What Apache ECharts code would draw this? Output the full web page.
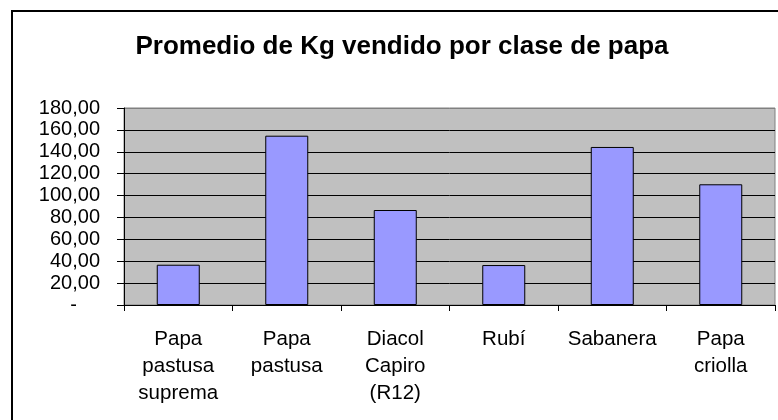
<!DOCTYPE html>
<html>
<head>
<meta charset="utf-8">
<script src="https://cdn.jsdelivr.net/npm/echarts@6/dist/echarts.min.js"></script>
<style>
html,body{margin:0;padding:0;background:#fff;}
#chart{width:778px;height:420px;}
</style>
</head>
<body>
<div id="chart"></div>
<script>
var titleText = 'Promedio de Kg vendido por clase de papa';
var categories = ['Papa\npastusa\nsuprema', 'Papa\npastusa', 'Diacol\nCapiro\n(R12)', 'Rubí', 'Sabanera', 'Papa\ncriolla'];
var values = [36.8, 154.7, 86.8, 36.5, 144.4, 110.3];
var yMin = 0, yMax = 180, yStep = 20;

var chart = echarts.init(document.getElementById('chart'), null, {renderer: 'canvas'});
var font = 'Arial, "Liberation Sans", sans-serif';
chart.setOption({
  animation: false,
  backgroundColor: '#ffffff',
  title: {
    text: titleText,
    left: 397,
    top: 29,
    textAlign: 'center',
    textStyle: {fontFamily: font, fontSize: 26, fontWeight: 'bold', color: '#000'}
  },
  graphic: [{
    type: 'rect',
    shape: {x: 12, y: 11, width: 800, height: 450},
    style: {fill: 'none', stroke: '#000', lineWidth: 2},
    silent: true,
    z: 100
  }],
  grid: {
    left: 124, top: 108, right: 3, bottom: 115,
    show: true,
    backgroundColor: '#C0C0C0',
    borderColor: '#808080',
    borderWidth: 1,
    containLabel: false,
    outerBoundsMode: 'none'
  },
  xAxis: {
    type: 'category',
    data: categories,
    boundaryGap: true,
    axisLine: {show: true, lineStyle: {color: '#000', width: 1}},
    axisTick: {show: true, length: 6, interval: 0, alignWithLabel: false, lineStyle: {color: '#000'}},
    axisLabel: {
      interval: 0, margin: 21, color: '#000',
      fontFamily: font, fontSize: 20.5, lineHeight: 27
    },
    splitLine: {show: false}
  },
  yAxis: {
    type: 'value',
    min: yMin, max: yMax, interval: yStep,
    axisLine: {show: true, lineStyle: {color: '#000', width: 1}},
    axisTick: {show: true, length: 7, lineStyle: {color: '#000'}},
    axisLabel: {
      margin: 24, color: '#000', fontFamily: font, fontSize: 20,
      formatter: function (v) {
        return v === 0 ? '{z|-}' : v.toFixed(2).replace('.', ',');
      },
      rich: {z: {fontFamily: font, fontSize: 20, color: '#000', padding: [0, 23, 0, 0]}}
    },
    splitLine: {show: true, lineStyle: {color: ['#000','#000','#000','#000','#000','#000','#000','#000','#000','#808080'], width: 1}}
  },
  series: [{
    type: 'bar',
    data: values,
    barWidth: 43,
    itemStyle: {color: '#9999FF', borderColor: '#000', borderWidth: 1},
    label: {show: false}
  }]
});
</script>
</body>
</html>
